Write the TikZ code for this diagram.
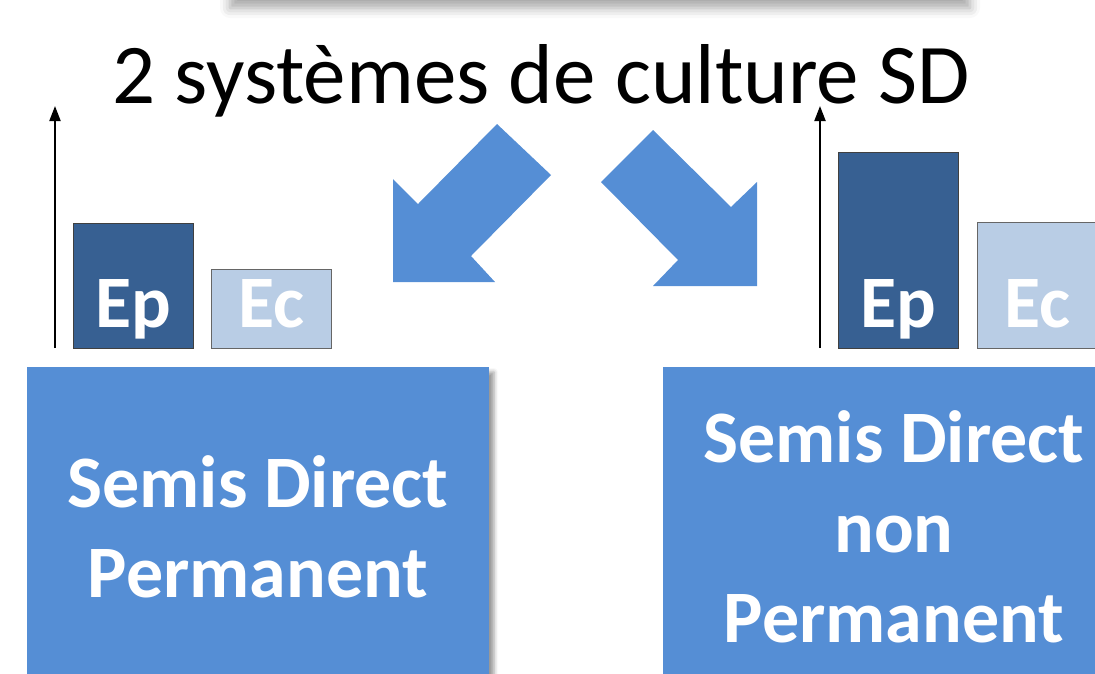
\documentclass[tikz,border=0pt]{standalone}
\usepackage{fontspec}
\setmainfont{Carlito}
\usetikzlibrary{positioning}
\usetikzlibrary{arrows.meta}
\usetikzlibrary{shadows.blur}
\definecolor{sdblue}{HTML}{558ED5}
\definecolor{epblue}{HTML}{376092}
\definecolor{ecblue}{HTML}{B9CDE5}

\tikzset{
  epbar/.style={draw=black!75, fill=epblue, text=white, anchor=south,
    font=\bfseries\fontsize{74}{80}\selectfont, minimum width=120pt,
    inner xsep=0pt, inner ysep=0pt, text depth=20pt},
  ecbar/.style={epbar, draw=black!60, fill=ecblue},
  sdbox/.style={fill=sdblue, text=white, align=center,
    font=\bfseries\fontsize{74}{90}\selectfont,
    minimum width=462pt, minimum height=320pt, inner sep=0pt,
    blur shadow={shadow xshift=5pt, shadow yshift=-5pt,
      shadow blur radius=4pt, shadow opacity=40}},
  axisline/.style={black, line width=2pt, -{Triangle[length=15pt,width=11pt]}},
  bigarrow/.style={fill=sdblue}
}

\begin{document}
\begin{tikzpicture}[x=1pt,y=-1pt]
\useasboundingbox (0,0) rectangle (1095,673);
\clip (0,0) rectangle (1095,673);

% shadow of the title band
\path[fill=white, blur shadow={shadow xshift=0pt, shadow yshift=-10pt,
  shadow blur radius=10pt, shadow opacity=35}] (230,-100) rectangle (970,-2);

\node[anchor=base, font=\fontsize{85}{90}\selectfont] (title) at (541,103) {2 syst\`emes de culture SD};

% arrows
\fill[bigarrow] (497,124) -- (551,175) -- (471,256) -- (495,282) -- (393,282) -- (393,179) -- (418,204) -- cycle;
\fill[bigarrow] (653,130) -- (601,182) -- (678,260) -- (653,286) -- (757,286) -- (757,182) -- (731,207) -- cycle;

% left system
\coordinate (lbase) at (55,348);
\coordinate (ltop) at (55,106);
\draw[axisline] (lbase) -- (ltop);
\node[epbar, text height=105pt] (epL) at (133,348) {Ep};
\node[ecbar, text height=59pt] (ecL) at (271.5,348) {Ec};
\node[sdbox] (sdp) at (258,527) {Semis Direct\\Permanent};

% right system
\coordinate (rbase) at (820,348);
\coordinate (rtop) at (820,106);
\draw[axisline] (rbase) -- (rtop);
\node[epbar, text height=176pt] (epR) at (898.5,348) {Ep};
\node[ecbar, text height=106pt] (ecR) at (1037.5,348) {Ec};
\node[sdbox] (sdnp) at (894,527) {Semis Direct\\non\\Permanent};

\end{tikzpicture}
\end{document}
